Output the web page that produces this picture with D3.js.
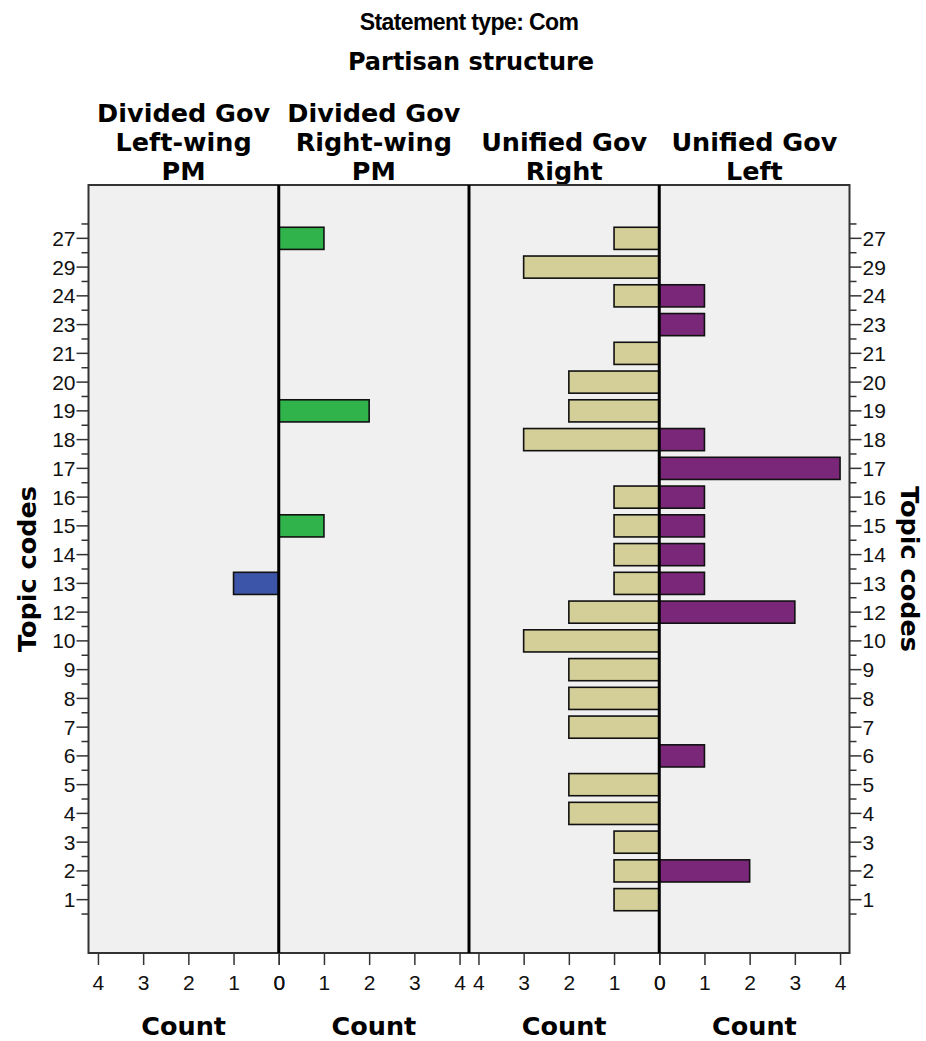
<!DOCTYPE html>
<meta charset="utf-8">
<title>Statement type: Com</title>
<style>
body { margin: 0; background: #fff; }
svg text { fill: #000; }
.big { font-family: "DejaVu Sans", Verdana, sans-serif; font-weight: bold; font-size: 25.5px; }
</style>
<svg width="926" height="1041"></svg>
<script src="https://cdnjs.cloudflare.com/ajax/libs/d3/7.8.5/d3.min.js"></script>
<script>
// topic codes, top to bottom
var topics = ["27","29","24","23","21","20","19","18","17","16","15","14","13","12","10","9","8","7","6","5","4","3","2","1"]

var divLeftPM  = [0,0,0,0,0,0,0,0,0,0,0,0,1,0,0,0,0,0,0,0,0,0,0,0]
var divRightPM = [1,0,0,0,0,0,2,0,0,0,1,0,0,0,0,0,0,0,0,0,0,0,0,0]
var uniRight   = [1,3,1,0,1,2,2,3,0,1,1,1,1,2,3,2,2,2,0,2,2,1,1,1]
var uniLeft    = [0,0,1,1,0,0,0,1,4,1,1,1,1,3,0,0,0,0,1,0,0,0,2,0]

var panelNames = [
	["Divided Gov", "Left-wing", "PM"],
	["Divided Gov", "Right-wing", "PM"],
	["Unified Gov", "Right"],
	["Unified Gov", "Left"]
]
var countTicks = [0, 1, 2, 3, 4]

var TICK_FONT = "'Liberation Sans', Arial, sans-serif"
var TICK_SIZE = "21px"

var svg = d3.select("svg")

var plotL = 88.5, plotR = 849.5, plotT = 185, plotB = 953
var panelW = (plotR - plotL) / 4

var y = d3.scalePoint()
	.domain(topics)
	.range([plotT, plotB])
	.padding(1.855)
var step = y.step()
var barH = step * 0.77

var panels = [
	{ values: divLeftPM,  dir: -1, zero: plotL + panelW,     color: "#3d55a8" },
	{ values: divRightPM, dir:  1, zero: plotL + panelW,     color: "#30b34b" },
	{ values: uniRight,   dir: -1, zero: plotL + 3 * panelW, color: "#d4cf98" },
	{ values: uniLeft,    dir:  1, zero: plotL + 3 * panelW, color: "#7b2779" }
]
panels.forEach(function(p, i) {
	p.names = panelNames[i]
	p.x = d3.scaleLinear().domain([0, panelW / 45.2])
		.range([p.zero, p.zero + p.dir * panelW])
	p.center = plotL + panelW * (i + 0.5)
})

// titles
svg.append("text")
	.attr("x", 469).attr("y", 30)
	.attr("text-anchor", "middle")
	.style("font-family", "'Liberation Sans', Arial, sans-serif")
	.style("font-weight", "bold").style("font-size", "23px")
	.style("letter-spacing", "-0.6px")
	.text("Statement type: Com")

svg.append("text")
	.attr("x", 471).attr("y", 70)
	.attr("text-anchor", "middle")
	.style("font-family", "'DejaVu Sans', Verdana, sans-serif")
	.style("font-weight", "bold").style("font-size", "24px")
	.text("Partisan structure")

// panel headers, bottom aligned
panels.forEach(function(p) {
	var n = p.names.length
	p.names.forEach(function(line, k) {
		svg.append("text")
			.attr("class", "big")
			.attr("x", p.center)
			.attr("y", 180 - (n - 1 - k) * 29)
			.attr("text-anchor", "middle")
			.text(line)
	})
})

// plot background
svg.append("rect")
	.attr("x", plotL).attr("y", plotT)
	.attr("width", plotR - plotL).attr("height", plotB - plotT)
	.attr("fill", "#f0f0f0")

// bars
panels.forEach(function(p) {
	var rows = topics.map(function(t, i) { return { topic: t, v: p.values[i] } })
		.filter(function(d) { return d.v > 0 })
	svg.append("g").selectAll("rect")
		.data(rows)
		.enter().append("rect")
			.attr("x", function(d) { return Math.min(p.x(0), p.x(d.v)) })
			.attr("y", function(d) { return y(d.topic) - barH / 2 })
			.attr("width", function(d) { return Math.abs(p.x(d.v) - p.x(0)) })
			.attr("height", barH)
			.attr("fill", p.color)
			.attr("stroke", "#111")
			.attr("stroke-width", 1.6)
})

// frame and separators
svg.append("rect")
	.attr("x", plotL).attr("y", plotT)
	.attr("width", plotR - plotL).attr("height", plotB - plotT)
	.attr("fill", "none").attr("stroke", "#333").attr("stroke-width", 2)

;[plotL + panelW, plotL + 2 * panelW, plotL + 3 * panelW].forEach(function(sx) {
	svg.append("line")
		.attr("x1", sx).attr("x2", sx)
		.attr("y1", plotT).attr("y2", plotB)
		.attr("stroke", "#000").attr("stroke-width", 3)
})

// y axes, left and right
var boundaries = d3.range(topics.length + 1).map(function(i) {
	return y(topics[0]) - step / 2 + i * step
})

function yAxis(side) {
	var x0 = side < 0 ? plotL : plotR
	var g = svg.append("g")
	g.selectAll("line.minor").data(boundaries).enter().append("line")
		.attr("x1", x0).attr("x2", x0 + side * 7)
		.attr("y1", function(d) { return d }).attr("y2", function(d) { return d })
		.attr("stroke", "#333").attr("stroke-width", 1.5)
	g.selectAll("line.major").data(topics).enter().append("line")
		.attr("x1", x0).attr("x2", x0 + side * 12)
		.attr("y1", function(d) { return y(d) }).attr("y2", function(d) { return y(d) })
		.attr("stroke", "#333").attr("stroke-width", 1.5)
	g.selectAll("text").data(topics).enter().append("text")
		.attr("x", x0 + side * 13)
		.attr("y", function(d) { return y(d) })
		.attr("dy", "0.36em")
		.attr("text-anchor", side < 0 ? "end" : "start")
		.style("font-family", TICK_FONT)
		.style("font-size", TICK_SIZE)
		.style("fill", "#111")
		.text(function(d) { return d })
}
yAxis(-1)
yAxis(1)

svg.append("text")
	.attr("class", "big")
	.attr("transform", "translate(36,569) rotate(-90)")
	.attr("text-anchor", "middle")
	.text("Topic codes")

svg.append("text")
	.attr("class", "big")
	.attr("transform", "translate(901,569) rotate(90)")
	.attr("text-anchor", "middle")
	.text("Topic codes")

// bottom count axes
panels.forEach(function(p) {
	var axis = d3.axisBottom(p.x)
		.tickValues(countTicks)
		.tickSize(12)
		.tickPadding(10)
		.tickFormat(d3.format("d"))
	var g = svg.append("g")
		.attr("transform", "translate(0," + plotB + ")")
		.call(axis)
	g.attr("font-family", null).attr("font-size", null)
	g.select(".domain").remove()
	g.selectAll(".tick line").attr("stroke", "#333").attr("stroke-width", 1.5)
	g.selectAll(".tick text")
		.style("font-family", TICK_FONT)
		.style("font-size", TICK_SIZE)
		.style("fill", "#111")

	svg.append("text")
		.attr("class", "big")
		.attr("x", p.center)
		.attr("y", 1035)
		.attr("text-anchor", "middle")
		.text("Count")
})
</script>
